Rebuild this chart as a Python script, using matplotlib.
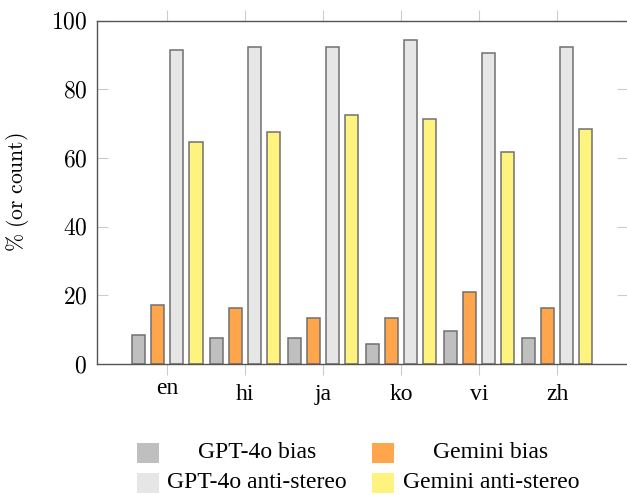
import matplotlib
matplotlib.use("Agg")
import matplotlib.pyplot as plt
import matplotlib.transforms as mtransforms
import numpy as np
from matplotlib.patches import Rectangle
from matplotlib.ticker import FuncFormatter

languages = ["en", "hi", "ja", "ko", "vi", "zh"]
gpt_bias = [8.6, 7.6, 7.6, 5.7, 9.5, 7.6]
gemini_bias = [17.1, 16.2, 13.3, 13.3, 21.0, 16.2]
gpt_anti = [91.4, 92.4, 92.4, 94.3, 90.5, 92.4]
gemini_anti = [64.8, 67.6, 72.4, 71.4, 61.9, 68.6]

series_names = ["GPT-4o bias", "Gemini bias", "GPT-4o anti-stereo", "Gemini anti-stereo"]
fills = ["#bfbfbf", "#ffa64d", "#e6e6e6", "#fff380"]

plt.rcParams["font.family"] = ["Liberation Serif", "DejaVu Serif"]
plt.rcParams["mathtext.fontset"] = "cm"


def main():
    fig = plt.figure(figsize=(6.27, 4.95), dpi=100)
    ax = fig.add_axes([0.1542, 0.2646, 0.8474, 0.6935])

    x = np.arange(len(languages))
    step = 0.245
    width = 0.17
    all_vals = [gpt_bias, gemini_bias, gpt_anti, gemini_anti]
    for i, vals in enumerate(all_vals):
        ax.bar(x + (i - 1.5) * step, vals, width, color=fills[i],
               edgecolor="#707070", linewidth=1.1, zorder=3)

    ax.set_xlim(-0.905, 5.91)
    ax.set_ylim(0, 100)
    ax.set_xticks(x)
    ax.set_xticklabels(languages, fontsize=17)
    ax.set_yticks(np.arange(0, 101, 20))
    ax.yaxis.set_major_formatter(FuncFormatter(lambda v, p: f"${v:.0f}$"))

    ax.tick_params(axis="x", direction="out", length=8, width=0.8,
                   color="#cccccc", top=True, pad=6.5)
    ax.tick_params(axis="y", direction="in", length=8, width=0.8,
                   color="#cccccc", right=True, labelsize=17, pad=6.8)
    for s in ax.spines.values():
        s.set_color("#555555")
        s.set_linewidth(1.0)
        s.set_zorder(4)

    # "en" sits a little higher in the original
    lab = ax.get_xticklabels()[0]
    lab.set_transform(lab.get_transform() +
                      mtransforms.ScaledTranslation(0, 6 / 100, fig.dpi_scale_trans))

    ax.set_ylabel(r"$\%\ \mathrm{(or\ count)}$", fontsize=15.6)
    ax.yaxis.set_label_coords(-0.124, 0.5)

    # legend, pgfplots style: two columns, text centred in its cell
    W, H = 627.0, 495.0
    hx = [136.7, 372.0]
    cx = [257.0, 491.0]
    ry = [453.0, 483.0]
    for i, name in enumerate(series_names):
        col, row = i % 2, i // 2
        fig.patches.append(Rectangle((hx[col] / W, 1 - (ry[row] + 10) / H),
                                     22 / W, 20 / H, transform=fig.transFigure,
                                     facecolor=fills[i], edgecolor="none"))
        fig.text(cx[col] / W, 1 - ry[row] / H, name,
                 ha="center", va="center", fontsize=17)

    fig.savefig("out.png", dpi=100)


if __name__ == "__main__":
    main()
